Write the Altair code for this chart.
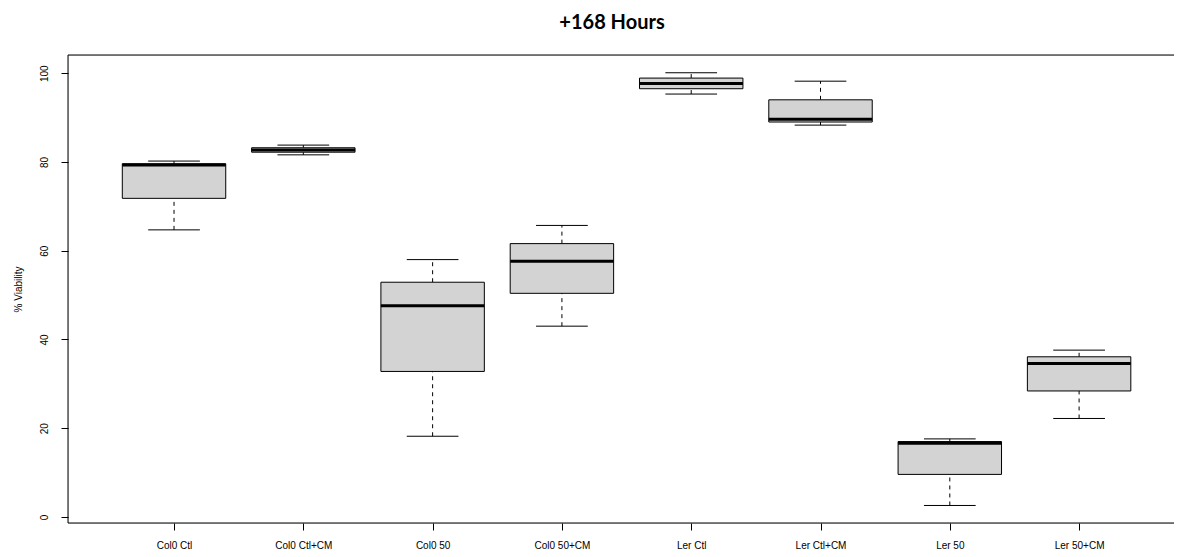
import altair as alt
import pandas as pd

groups = ["Col0 Ctl", "Col0 Ctl+CM", "Col0 50", "Col0 50+CM",
          "Ler Ctl", "Ler Ctl+CM", "Ler 50", "Ler 50+CM"]
whisker_low = [64.7, 81.6, 18.2, 43.0, 95.3, 88.3, 2.6, 22.2]
q1 = [71.8, 82.2, 32.8, 50.4, 96.5, 89.0, 9.6, 28.4]
median = [79.3, 82.7, 47.6, 57.6, 97.7, 89.6, 16.6, 34.6]
q3 = [79.6, 83.2, 52.9, 61.6, 98.9, 94.0, 17.0, 36.1]
whisker_high = [80.2, 83.8, 58.0, 65.7, 100.1, 98.2, 17.6, 37.6]
y_ticks = [0, 20, 40, 60, 80, 100]

df = pd.DataFrame({
    "group": groups,
    "pos": list(range(1, len(groups) + 1)),
    "lo": whisker_low, "q1": q1, "med": median, "q3": q3, "hi": whisker_high,
})

W, H = 1106, 468
xdom = [0.18, 8.734]
ydom = [-1.35, 104.1]

label_expr = "[" + ",".join(f"'{g}'" for g in groups) + "][datum.value - 1]"

xscale = alt.Scale(domain=xdom, nice=False, zero=False)
yscale = alt.Scale(domain=ydom, nice=False, zero=False)

xaxis = alt.Axis(values=list(range(1, 9)), labelExpr=label_expr, title=None,
                 grid=False, domain=False, tickSize=7, tickColor="#000000",
                 labelFont="Liberation Sans", labelFontSize=10, labelColor="#000000",
                 labelPadding=10)
yaxis = alt.Axis(values=y_ticks, title="% Viability", grid=False, domain=False,
                 tickSize=7, tickColor="#000000", labelAngle=270,
                 labelAlign="center", labelBaseline="alphabetic", labelPadding=14,
                 labelFont="Liberation Sans", labelFontSize=10, labelColor="#000000",
                 titleFont="Liberation Sans", titleFontSize=10, titleFontWeight="normal",
                 titleColor="#000000", titleAngle=270, titleX=-47,
                 titleBaseline="alphabetic", titleAlign="center")

base = alt.Chart(df).transform_calculate(
    xl="datum.pos - 0.4", xr="datum.pos + 0.4",
    cl="datum.pos - 0.2", cr="datum.pos + 0.2",
)

whisk_up = base.mark_rule(color="#000000", strokeDash=[4, 4], strokeWidth=1).encode(
    x=alt.X("pos:Q", scale=xscale, axis=xaxis),
    y=alt.Y("q3:Q", scale=yscale, axis=yaxis), y2="hi:Q")
whisk_dn = base.mark_rule(color="#000000", strokeDash=[4, 4], strokeWidth=1).encode(
    x="pos:Q", y="lo:Q", y2="q1:Q")
cap_hi = base.mark_rule(color="#000000", strokeWidth=1).encode(
    x="cl:Q", x2="cr:Q", y="hi:Q")
cap_lo = base.mark_rule(color="#000000", strokeWidth=1).encode(
    x="cl:Q", x2="cr:Q", y="lo:Q")
box = base.mark_rect(fill="#D3D3D3", stroke="#000000", strokeWidth=1).encode(
    x="xl:Q", x2="xr:Q", y="q1:Q", y2="q3:Q")
med = base.mark_rule(color="#000000", strokeWidth=3).encode(
    x="xl:Q", x2="xr:Q", y="med:Q")

frame_top = alt.Chart(pd.DataFrame({"v": [ydom[1]]})).mark_rule(
    color="#000000", strokeWidth=1).encode(
    y="v:Q", x=alt.value(0), x2=alt.value(W))
frame_left = alt.Chart(pd.DataFrame({"v": [xdom[0]]})).mark_rule(
    color="#000000", strokeWidth=1).encode(
    x="v:Q", y=alt.value(0), y2=alt.value(H))
frame_bottom = alt.Chart(pd.DataFrame({"v": [ydom[0]]})).mark_rule(
    color="#000000", strokeWidth=1).encode(
    y="v:Q", x=alt.value(0), x2=alt.value(W))

chart = alt.layer(
    whisk_up, whisk_dn, cap_hi, cap_lo, box, med, frame_top, frame_left, frame_bottom
).properties(
    width=W, height=H,
    autosize=alt.AutoSizeParams(type="none"),
    padding={"left": 60, "top": 47, "right": 0, "bottom": 30},
    title=alt.TitleParams("+168 Hours", font="Lato", fontSize=20, fontWeight="bold",
                          color="#000000", anchor="middle", frame="group",
                          baseline="alphabetic", offset=6, dx=-9),
).configure_view(stroke=None).configure(background="white")

chart.save("out.html", embed_options={"renderer": "svg", "actions": False})
